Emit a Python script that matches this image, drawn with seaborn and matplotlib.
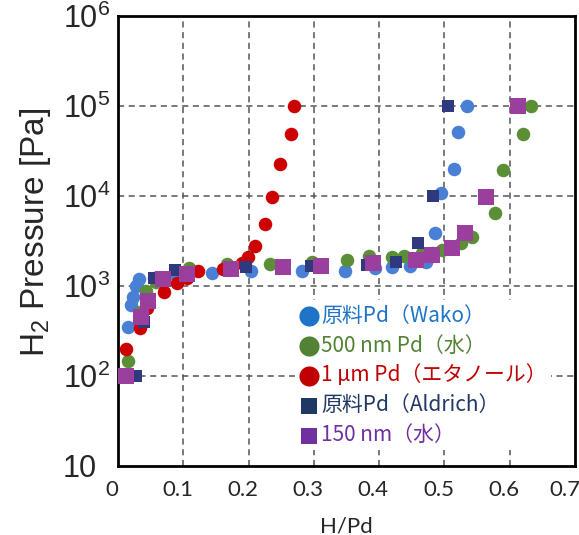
import matplotlib
matplotlib.use("Agg")

import matplotlib.pyplot as plt
import matplotlib.ticker as mticker
import matplotlib.transforms as mtransforms
import numpy as np
import pandas as pd
import seaborn as sns

# H/Pd and H2 pressure [Pa]
wako_x = [0.015, 0.020, 0.023, 0.028, 0.032, 0.055, 0.090, 0.144, 0.204, 0.281, 0.347,
          0.394, 0.420, 0.448, 0.472, 0.481, 0.485, 0.495, 0.514, 0.521, 0.534]
wako_p = [350, 615, 755, 1000, 1195, 1230, 1260, 1390, 1470, 1470, 1470,
          1585, 1620, 1670, 1850, 2330, 3880, 10800, 20000, 51000, 100000]

water500_x = [0.015, 0.034, 0.043, 0.058, 0.109, 0.167, 0.233, 0.297, 0.351, 0.385,
              0.419, 0.438, 0.466, 0.497, 0.526, 0.543, 0.577, 0.590, 0.621, 0.633]
water500_p = [147, 515, 880, 1110, 1585, 1750, 1750, 1850, 1945, 2150,
              2100, 2150, 2330, 2510, 3000, 3500, 6500, 19500, 49000, 100000]

ethanol_x = [0.012, 0.034, 0.045, 0.071, 0.090, 0.106, 0.123, 0.161, 0.190, 0.199,
             0.209, 0.225, 0.236, 0.248, 0.265, 0.270]
ethanol_p = [200, 340, 570, 860, 1080, 1230, 1470, 1545, 1800, 2100,
             2780, 4900, 9750, 22700, 49000, 100000]

aldrich_x = [0.028, 0.040, 0.055, 0.087, 0.196, 0.296, 0.382, 0.426, 0.459, 0.482, 0.505]
aldrich_p = [100, 400, 1230, 1500, 1630, 1670, 1710, 1850, 3000, 10000, 100000]

water150_x = [0.012, 0.035, 0.046, 0.069, 0.106, 0.173, 0.252, 0.311, 0.391, 0.457,
              0.481, 0.512, 0.531, 0.563, 0.612]
water150_p = [100, 450, 680, 1195, 1360, 1545, 1630, 1670, 1800, 1950,
              2200, 2650, 3900, 9750, 100000]

labels = ["原料Pd（Wako）", "500 nm Pd（水）", "1 µm Pd（エタノール）",
          "原料Pd（Aldrich）", "150 nm（水）"]
y_ticks = [10, 100, 1e3, 1e4, 1e5, 1e6]
y_tick_labels = ["10", "$10^2$", "$10^3$", "$10^4$", "$10^5$", "$10^6$"]
x_ticks = [0, 0.1, 0.2, 0.3, 0.4, 0.5, 0.6, 0.7]
x_tick_labels = ["0", "0.1", "0.2", "0.3", "0.4", "0.5", "0.6", "0.7"]

# name, x, p, marker, point colour, legend colour, point size, legend size
series = [
    (labels[0], wako_x, wako_p, "o", "#4a7fd6", "#1f74c8", 95, 210),
    (labels[1], water500_x, water500_p, "o", "#5b8f35", "#548235", 95, 210),
    (labels[2], ethanol_x, ethanol_p, "o", "#cc0000", "#c00000", 95, 210),
    (labels[3], aldrich_x, aldrich_p, "s", "#2f3a7e", "#1f3864", 80, 120),
    (labels[4], water150_x, water150_p, "s", "#9b3f9f", "#7030a0", 120, 120),
]

sns.set_style("white")
plt.rcParams["font.family"] = ["Liberation Sans", "DejaVu Sans"]
plt.rcParams["mathtext.fontset"] = "custom"
plt.rcParams["mathtext.rm"] = "Liberation Sans"
plt.rcParams["mathtext.it"] = "Liberation Sans:italic"

fig = plt.figure(figsize=(5.79, 5.35), dpi=100)
ax = fig.add_axes([0.204, 0.129, 0.789, 0.841])

for name, xs, ps, marker, color, _, size, _ in series:
    df = pd.DataFrame({"H/Pd": xs, "P": ps})
    sns.scatterplot(data=df, x="H/Pd", y="P", marker=marker, color=color, s=size,
                    linewidth=0, label=name, ax=ax, zorder=3)

ax.set_yscale("log")
ax.set_ylim(10, 1e6)
ax.set_xlim(0, 0.7)
ax.yaxis.set_major_locator(mticker.FixedLocator(y_ticks))
ax.yaxis.set_major_formatter(mticker.FixedFormatter(y_tick_labels))
ax.yaxis.set_minor_locator(mticker.NullLocator())
ax.set_xticks(x_ticks)
ax.set_xticklabels(x_tick_labels, family="Lato", fontsize=16)
# y labels are left aligned in the original, starting about 55 px left of the spine
ax.tick_params(axis="y", labelsize=22, length=0, pad=40)
for lab in ax.get_yticklabels():
    lab.set_horizontalalignment("left")
ax.tick_params(axis="x", length=0, pad=10)

# the x labels sit a little left of their grid lines in the original
shift = mtransforms.ScaledTranslation(-6 / 100, 0, fig.dpi_scale_trans)
last_shift = mtransforms.ScaledTranslation(-4 / 100, 0, fig.dpi_scale_trans)
xlabs = ax.get_xticklabels()
for lab in xlabs:
    lab.set_transform(lab.get_transform() + shift)
xlabs[-1].set_transform(xlabs[-1].get_transform() + last_shift)

for xv in x_ticks[1:-1]:
    ax.axvline(xv, color="#555555", linestyle=(0, (4, 3)), linewidth=1.1, zorder=1)
for yv in y_ticks[1:-1]:
    ax.axhline(yv, color="#555555", linestyle=(0, (4, 3)), linewidth=1.1, zorder=1)

for spine in ax.spines.values():
    spine.set_color("black")
    spine.set_linewidth(2)

ax.set_xlabel("H/Pd", family="Lato", fontsize=16, labelpad=12)
ax.set_ylabel("H$_2$ Pressure [Pa]", fontsize=24)
ax.yaxis.set_label_coords(-0.143, 0.52)

leg = ax.legend(loc="upper left", bbox_to_anchor=(0.388, 0.368), frameon=True,
                facecolor="white", edgecolor="none", framealpha=1,
                prop={"family": ["Noto Sans CJK JP", "DejaVu Sans"], "size": 15},
                handlelength=0.9, handletextpad=0.15,
                labelspacing=0.38, borderpad=0.2, borderaxespad=0)
leg.set_zorder(5)
for text, s in zip(leg.get_texts(), series):
    text.set_color(s[5])
for handle, s in zip(leg.legend_handles, series):
    handle.set_color(s[5])
    handle.set_sizes([s[7]])

fig.savefig("out.png", dpi=100)
